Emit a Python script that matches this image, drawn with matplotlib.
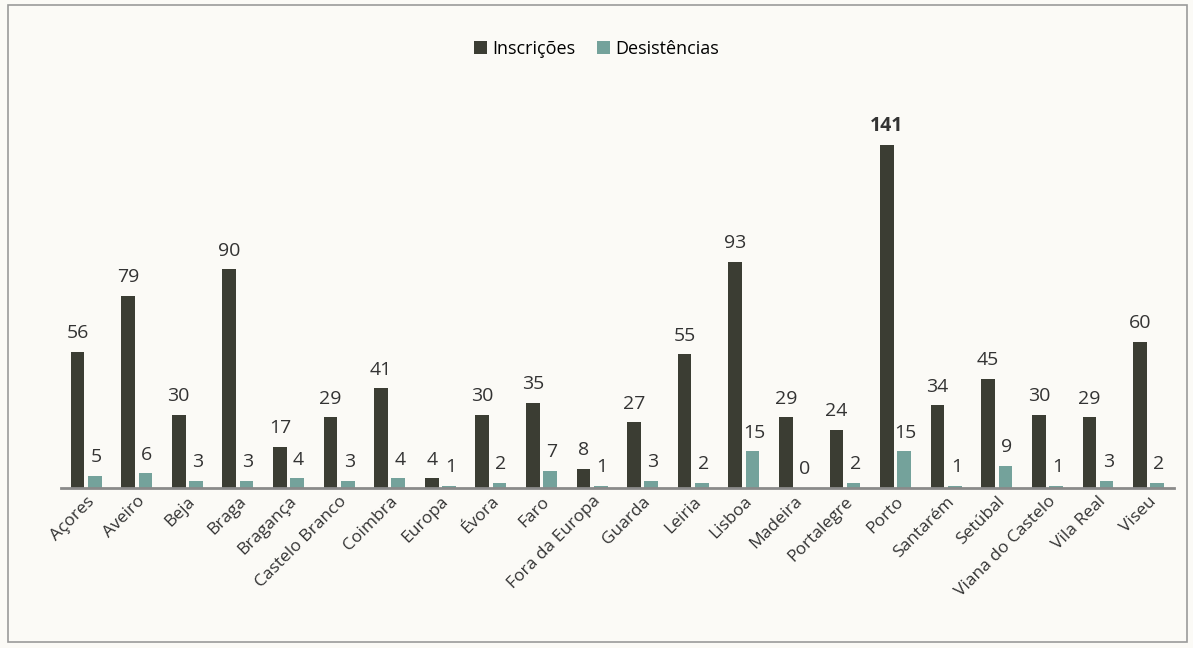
import numpy as np
import matplotlib.pyplot as plt
from matplotlib.patches import Rectangle

plt.rcParams['font.family'] = ['Open Sans', 'DejaVu Sans']

distritos = ["Açores", "Aveiro", "Beja", "Braga", "Bragança", "Castelo Branco",
             "Coimbra", "Europa", "Évora", "Faro", "Fora da Europa", "Guarda",
             "Leiria", "Lisboa", "Madeira", "Portalegre", "Porto", "Santarém",
             "Setúbal", "Viana do Castelo", "Vila Real", "Viseu"]
inscricoes = [56, 79, 30, 90, 17, 29, 41, 4, 30, 35, 8, 27, 55, 93, 29, 24,
              141, 34, 45, 30, 29, 60]
desistencias = [5, 6, 3, 3, 4, 3, 4, 1, 2, 7, 1, 3, 2, 15, 0, 2, 15, 1, 9, 1, 3, 2]

DARK = "#3b3d33"
TEAL = "#74a29b"
BG = "#fbfaf6"

fig = plt.figure(figsize=(11.93, 6.48), dpi=100, facecolor=BG)
fig.patches.append(Rectangle((0.007, 0.01), 0.988, 0.982, transform=fig.transFigure,
                             fill=False, ec="#9a9a9a", lw=1.2))
ax = fig.add_axes([0.051, 0.247, 0.933, 0.63])
ax.set_facecolor(BG)

x = np.arange(len(distritos))
w = 0.27
b1 = ax.bar(x - 0.17, inscricoes, w, color=DARK, label="Inscrições", zorder=2)
b2 = ax.bar(x + 0.17, desistencias, w, color=TEAL, label="Desistências", zorder=2)

for xi, v in zip(x, inscricoes):
    ax.annotate(str(v), (xi - 0.17, v), xytext=(0, 7), textcoords="offset points",
                ha="center", va="bottom", fontsize=14, color="#333333",
                fontweight="bold" if v == max(inscricoes) else "normal")
for xi, v in zip(x, desistencias):
    ax.annotate(str(v), (xi + 0.2, v), xytext=(0, 7), textcoords="offset points",
                ha="center", va="bottom", fontsize=14, color="#333333")

ax.set_xlim(-0.5, len(distritos) - 0.5)
ax.set_ylim(0, 168)
ax.set_yticks([])
for s in ["top", "right", "left"]:
    ax.spines[s].set_visible(False)
ax.spines["bottom"].set_color("#8a8a8a")
ax.spines["bottom"].set_linewidth(2)
ax.set_xticks(x)
ax.set_xticklabels(distritos, rotation=45, ha="right", rotation_mode="anchor",
                   fontsize=12.5, color="#333333")
ax.tick_params(axis="x", length=0, pad=4)

fig.legend(handles=[b1, b2], loc="center", bbox_to_anchor=(0.5, 0.925), ncol=2,
           frameon=False, fontsize=13, handlelength=0.7, handleheight=0.7,
           handletextpad=0.3, columnspacing=1.2)

fig.savefig("out.png", dpi=100, facecolor=BG)
